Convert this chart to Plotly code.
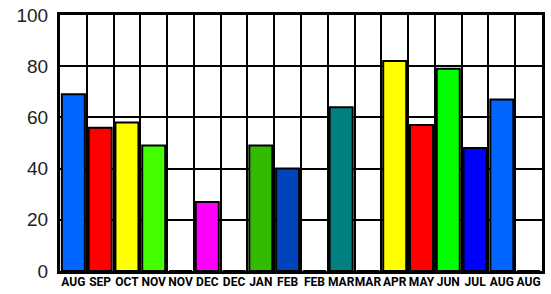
import plotly.graph_objects as go

months = ["AUG", "SEP", "OCT", "NOV", "NOV", "DEC", "DEC", "JAN", "FEB", "FEB",
          "MAR", "MAR", "APR", "MAY", "JUN", "JUL", "AUG", "AUG"]
values = [69, 56, 58, 49, 0, 27, 0, 49, 40, 0, 64, 0, 82, 57, 79, 48, 67, 0]
colors = ["#0066ff", "#ff0000", "#ffff00", "#44ff00", "#ffffff", "#ff00ff", "#ffffff",
          "#33bb00", "#0044bb", "#ffffff", "#008080", "#ffffff", "#ffff00", "#ff0000",
          "#00ff00", "#0000ff", "#0066ff", "#ffffff"]
y_ticks = [0, 20, 40, 60, 80, 100]

xs = list(range(len(months)))

fig = go.Figure(go.Bar(
    x=xs, y=values, width=0.86,
    marker=dict(color=colors, line=dict(color="black", width=2)),
))

fig.update_layout(
    width=551, height=294,
    margin=dict(l=60, r=9, t=15, b=23, autoexpand=False),
    paper_bgcolor="white", plot_bgcolor="white",
    showlegend=False,
    bargap=0.14,
)
fig.update_xaxes(
    range=[-0.5, len(months) - 0.5],
    tickvals=xs, ticktext=months, tickangle=0, automargin=False,
    tickfont=dict(family="Roboto", size=12, color="black", weight="bold"),
    ticklabeloverflow="allow", ticklabelstandoff=-2,
    showgrid=False, zeroline=False,
    showline=True, linecolor="black", linewidth=3, mirror=True,
    ticks="", ticklen=0,
    minor=dict(tick0=0.5, dtick=1, showgrid=True, gridcolor="black", gridwidth=2),
)
fig.update_yaxes(
    range=[0, 100], tickvals=y_ticks, automargin=False,
    tickfont=dict(family="Liberation Sans", size=19, color="#222222"),
    ticklabeloverflow="allow",
    showgrid=True, gridcolor="black", gridwidth=2,
    zeroline=False, showline=True, linecolor="black", linewidth=3, mirror=True,
    ticks="", ticklen=0, ticklabelstandoff=5,
)

fig.write_html("out.html", config={"displayModeBar": False},
               post_script="document.body.style.margin='0';")
